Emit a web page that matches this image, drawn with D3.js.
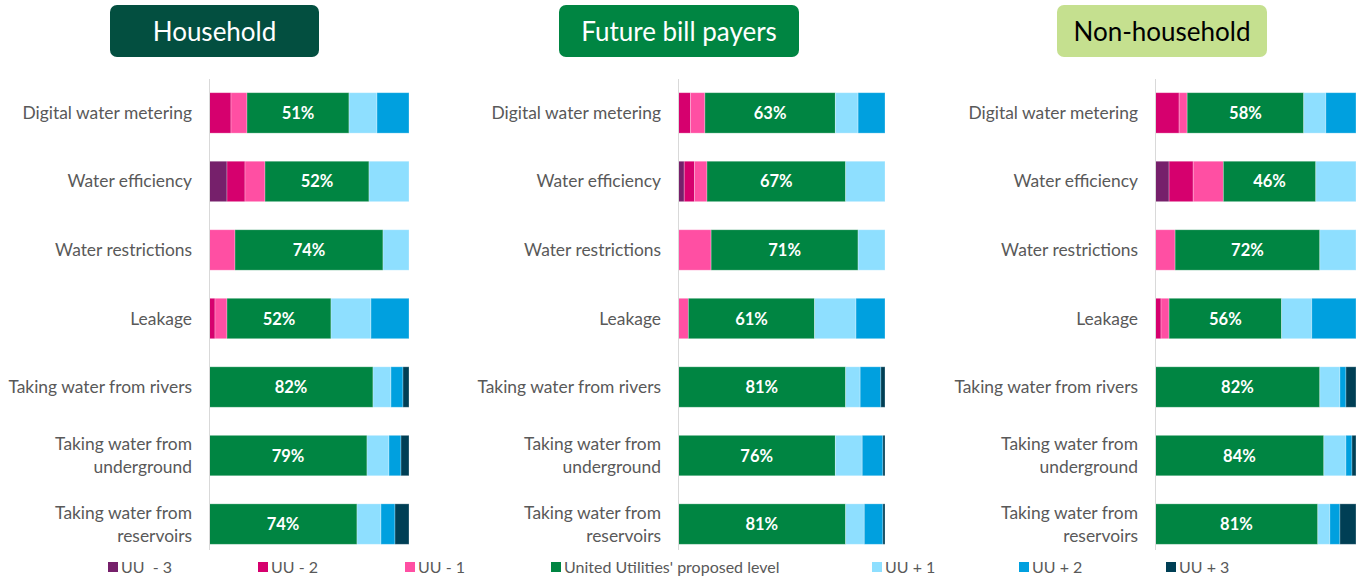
<!DOCTYPE html>
<html>
<head>
<meta charset="utf-8">
<script src="https://cdn.jsdelivr.net/npm/d3@7"></script>
<style>
  body { margin: 0; background: #fff; }
  text { font-family: Lato, "Open Sans", sans-serif; }
</style>
</head>
<body>
<script>
// Data
const categories = [
  "Digital water metering",
  "Water efficiency",
  "Water restrictions",
  "Leakage",
  "Taking water from rivers",
  "Taking water from underground",
  "Taking water from reservoirs"
];

const levels = ["UU  - 3", "UU - 2", "UU - 1", "United Utilities' proposed level", "UU + 1", "UU + 2", "UU + 3"];

const groups = ["Household", "Future bill payers", "Non-household"];

// one row per category, one value per level (-3 .. +3)
const householdValues = [
  [0, 11, 8, 51, 14, 16, 0],
  [9, 9, 10, 52, 20, 0, 0],
  [0, 0, 13, 74, 13, 0, 0],
  [0, 3, 6, 52, 20, 19, 0],
  [0, 0, 0, 82, 9, 6, 3],
  [0, 0, 0, 79, 11, 6, 4],
  [0, 0, 0, 74, 12, 7, 7]
];

const futureValues = [
  [0, 6, 7, 63, 11, 13, 0],
  [3, 5, 6, 67, 19, 0, 0],
  [0, 0, 16, 71, 13, 0, 0],
  [0, 0, 5, 61, 20, 14, 0],
  [0, 0, 0, 81, 7, 10, 2],
  [0, 0, 0, 76, 13, 10, 1],
  [0, 0, 0, 81, 9, 9, 1]
];

const nonHouseholdValues = [
  [0, 12, 4, 58, 11, 15, 0],
  [7, 12, 15, 46, 20, 0, 0],
  [0, 0, 10, 72, 18, 0, 0],
  [0, 3, 4, 56, 15, 22, 0],
  [0, 0, 0, 82, 10, 3, 5],
  [0, 0, 0, 84, 11, 3, 2],
  [0, 0, 0, 81, 6, 5, 8]
];

// Styles
const levelColors = ["#76206b", "#d6006e", "#ff4fa3", "#008542", "#8edfff", "#00a0df", "#003f55"];
const titleFills = ["#034f40", "#008542", "#c5e08f"];
const titleColors = ["#ffffff", "#ffffff", "#000000"];
const labelColor = "#595959";

// Layout
const config = { width: 1364, height: 581 };
const panelLayout = [
  { barX: [209, 409], boxX: 110, boxW: 209 },
  { barX: [678, 885], boxX: 559, boxW: 240 },
  { barX: [1155, 1356], boxX: 1057, boxW: 210 }
];
const legendOffsets = [108, 258, 405, 551, 872, 1019, 1166];

const svg = d3
  .select("body")
  .append("svg")
  .attr("width", config.width)
  .attr("height", config.height);

const y = d3
  .scaleBand()
  .domain(categories)
  .range([79, 558])
  .paddingInner(0.41)
  .paddingOuter(0.2);

const color = d3.scaleOrdinal().domain(levels).range(levelColors);

const valueSets = [householdValues, futureValues, nonHouseholdValues];

const stack = d3
  .stack()
  .keys(levels.map((d, i) => i))
  .offset(d3.stackOffsetExpand);

// long labels wrap after "from"
const splitLabel = d =>
  d.length > 24 ? ["Taking water from", d.slice(18)] : [d];

groups.forEach((group, gi) => {
  const layout = panelLayout[gi];
  const rows = valueSets[gi];
  const g = svg.append("g").attr("class", "panel");

  // title box
  g.append("rect")
    .attr("x", layout.boxX)
    .attr("y", 5)
    .attr("width", layout.boxW)
    .attr("height", 52)
    .attr("rx", 7)
    .attr("fill", titleFills[gi]);

  g.append("text")
    .attr("x", layout.boxX + layout.boxW / 2)
    .attr("y", 40.5)
    .attr("text-anchor", "middle")
    .attr("font-size", 26)
    .attr("fill", titleColors[gi])
    .text(group);

  const x = d3.scaleLinear().domain([0, 1]).range(layout.barX);

  const series = stack(rows);

  g.selectAll("g.series")
    .data(series)
    .join("g")
    .attr("class", "series")
    .attr("fill", (d, i) => levelColors[i])
    .selectAll("rect")
    .data(d => d.map((v, j) => ({ v, cat: categories[j] })))
    .join("rect")
    .attr("x", d => x(d.v[0]))
    .attr("y", d => y(d.cat))
    .attr("width", d => Math.max(0, x(d.v[1]) - x(d.v[0])))
    .attr("height", y.bandwidth())
    .attr("stroke", "rgba(255,255,255,0.35)")
    .attr("stroke-width", 0.8);

  // value labels on the proposed level
  const mid = series[3];
  g.selectAll("text.value")
    .data(mid.map((v, j) => ({ v, cat: categories[j], val: rows[j][3] })))
    .join("text")
    .attr("class", "value")
    .attr("x", d => (x(d.v[0]) + x(d.v[1])) / 2)
    .attr("y", d => y(d.cat) + y.bandwidth() / 2 + 6)
    .attr("text-anchor", "middle")
    .attr("font-size", 16.5)
    .attr("font-weight", "bold")
    .attr("fill", "#fff")
    .text(d => d.val + "%");

  // axis line
  g.append("line")
    .attr("x1", layout.barX[0] + 0.5)
    .attr("x2", layout.barX[0] + 0.5)
    .attr("y1", 79)
    .attr("y2", 550)
    .attr("stroke", "#d9d9d9")
    .attr("stroke-width", 1);

  // category labels
  const labels = g
    .selectAll("text.cat")
    .data(categories)
    .join("text")
    .attr("class", "cat")
    .attr("text-anchor", "end")
    .attr("font-size", 17.4)
    .attr("fill", labelColor);

  labels.each(function (d) {
    const lines = splitLabel(d);
    const cy = y(d) + y.bandwidth() / 2;
    const t = d3.select(this);
    lines.forEach((line, li) => {
      t.append("tspan")
        .attr("x", layout.barX[0] - 17)
        .attr("y", cy + 6 + (li - (lines.length - 1) / 2) * 23)
        .text(line);
    });
  });
});

// Legend
const legend = svg
  .append("g")
  .attr("id", "legend")
  .selectAll("g")
  .data(levels)
  .join("g")
  .attr("transform", (d, i) => `translate(${legendOffsets[i]},567)`);

legend
  .append("rect")
  .attr("x", 0)
  .attr("y", -5)
  .attr("width", 10)
  .attr("height", 10)
  .attr("fill", d => color(d));

legend
  .append("text")
  .attr("x", 13)
  .attr("y", 5.5)
  .attr("font-size", 16)
  .attr("fill", labelColor)
  .style("white-space", "pre")
  .text(d => d);
</script>
</body>
</html>
